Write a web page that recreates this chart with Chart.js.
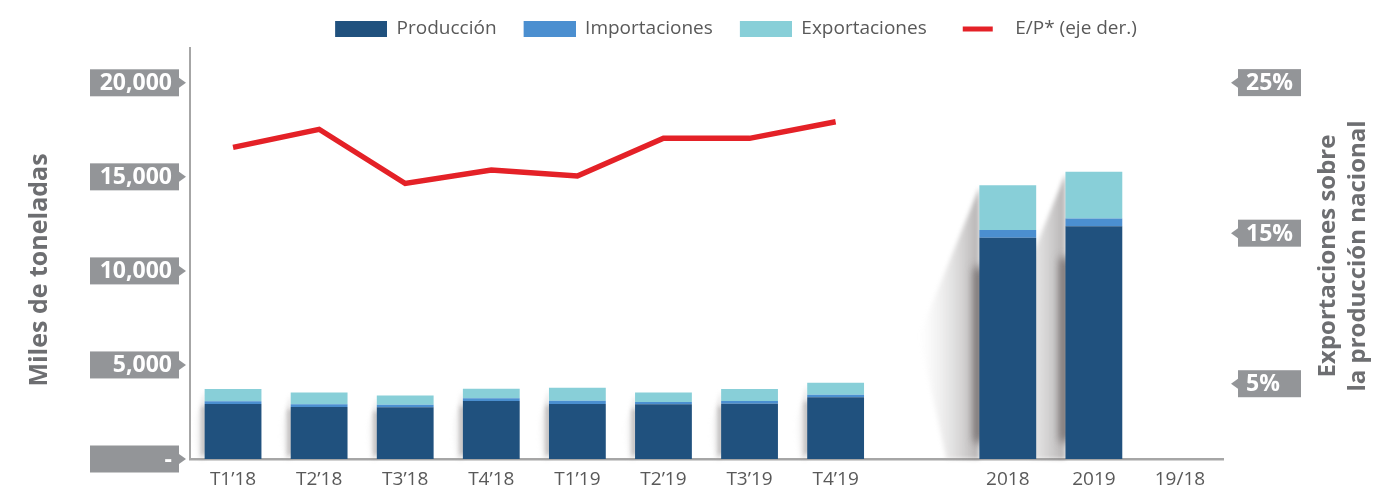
<!DOCTYPE html>
<html lang="es">
<head>
<meta charset="utf-8">
<title>Producción, importaciones y exportaciones</title>
<script src="https://cdn.jsdelivr.net/npm/chart.js@4.4.1/dist/chart.umd.min.js"></script>
<style>
  html, body { margin: 0; padding: 0; background: #fff; }
  #grafico-wrap { width: 1374px; height: 490px; }
</style>
</head>
<body>
<div id="grafico-wrap"><canvas id="grafico"></canvas></div>
<script>
// Categorías del eje X (hay un hueco vacío entre trimestres y años)
const categorias = ['T1’18', 'T2’18', 'T3’18', 'T4’18', 'T1’19', 'T2’19', 'T3’19', 'T4’19', '', '2018', '2019', '19/18'];

// Miles de toneladas
const produccion    = [2930, 2770, 2750, 3090, 2930, 2910, 2940, 3280, null, 11760, 12380, null];
const importaciones = [140, 140, 140, 140, 170, 120, 140, 130, null, 410, 410, null];
const exportaciones = [650, 620, 480, 510, 690, 500, 640, 650, null, 2380, 2480, null];

// E/P en %, eje derecho
const ratioEP = [20.7, 21.9, 18.3, 19.2, 18.8, 21.3, 21.3, 22.4, null, null, null, null];

// Marcas de los ejes
const ticksIzq = [0, 5000, 10000, 15000, 20000];
const ticksDer = [5, 15, 25];

const AZUL_OSCURO = '#20517e';
const AZUL_MEDIO = '#4b8fd0';
const AZUL_CLARO = '#88cfd8';
const ROJO = '#e42127';
const GRIS_CAJA = '#939598';
const GRIS_TEXTO = '#595959';
const GRIS_TITULO = '#6d6e71';
const FUENTE = '"Open Sans", "DejaVu Sans", sans-serif';

// iconos de la leyenda: 13 px de aire a la izquierda para separar las entradas
const ANCHO_ICONO = 65;
function iconoCaja(color) {
    const c = document.createElement('canvas');
    c.width = ANCHO_ICONO; c.height = 16;
    const g = c.getContext('2d');
    g.fillStyle = color;
    g.fillRect(13, 0, 52, 16);
    return c;
}
function iconoLinea(color) {
    const c = document.createElement('canvas');
    c.width = ANCHO_ICONO; c.height = 16;
    const g = c.getContext('2d');
    g.fillStyle = color;
    g.fillRect(22, 6, 30, 5);
    return c;
}
const iconos = [iconoCaja(AZUL_OSCURO), iconoCaja(AZUL_MEDIO), iconoCaja(AZUL_CLARO), iconoLinea(ROJO)];

// sombra difusa a la izquierda de cada barra apilada
const sombraBarras = {
    id: 'sombraBarras',
    beforeDatasetsDraw(chart) {
        const { ctx } = chart;
        const metaTop = chart.getDatasetMeta(2);
        const base = chart.scales.y.getPixelForValue(0);
        metaTop.data.forEach((bar, i) => {
            if (exportaciones[i] == null) return;
            const { x, y, width } = bar.getProps(['x', 'y', 'width'], true);
            const left = x - width / 2;
            const h = base - y;
            const grande = h > 150;
            const d = h * (grande ? 0.22 : 0.16);

            ctx.save();
            ctx.filter = 'blur(2px)';
            let g = ctx.createLinearGradient(left, 0, left - d, 0);
            g.addColorStop(0, grande ? 'rgba(120,115,115,0.55)' : 'rgba(150,145,145,0.35)');
            g.addColorStop(1, 'rgba(210,210,210,0)');
            ctx.beginPath();
            ctx.moveTo(left, y + 2);
            ctx.lineTo(left - d, y + h * 0.55);
            ctx.lineTo(left - d * 0.55, base);
            ctx.lineTo(left, base);
            ctx.closePath();
            ctx.fillStyle = g;
            ctx.fill();

            // franja oscura pegada al borde izquierdo
            ctx.filter = grande ? 'blur(5px)' : 'blur(2px)';
            const y0 = y + h * (grande ? 0.3 : 0.25);
            const y1 = base - h * 0.06;
            ctx.fillStyle = grande ? 'rgba(70,60,60,0.7)' : 'rgba(100,95,95,0.35)';
            ctx.fillRect(left - (grande ? 5 : 3), y0, grande ? 10 : 5, y1 - y0);
            ctx.restore();
        });
    }
};

// cajas grises de las marcas y títulos de ejes
const etiquetasEjes = {
    id: 'etiquetasEjes',
    afterDraw(chart) {
        const { ctx, scales, chartArea } = chart;
        ctx.save();
        ctx.font = 'bold 23px ' + FUENTE;
        ctx.textBaseline = 'middle';

        const cajaDer = chartArea.left - 11;
        scales.y.ticks.forEach(t => {
            const yy = scales.y.getPixelForValue(t.value);
            ctx.fillStyle = GRIS_CAJA;
            ctx.fillRect(cajaDer - 89, yy - 13.5, 89, 27);
            ctx.beginPath();
            ctx.moveTo(cajaDer, yy - 5);
            ctx.lineTo(cajaDer + 7, yy);
            ctx.lineTo(cajaDer, yy + 5);
            ctx.fill();
            ctx.fillStyle = '#fff';
            ctx.textAlign = 'right';
            ctx.fillText(t.value === 0 ? '-' : t.value.toLocaleString('en-US'), cajaDer - 7, yy + 1);
        });

        const cajaIzq = chartArea.right + 15;
        scales.y1.ticks.forEach(t => {
            const yy = scales.y1.getPixelForValue(t.value);
            ctx.fillStyle = GRIS_CAJA;
            ctx.fillRect(cajaIzq, yy - 13.5, 63, 27);
            ctx.beginPath();
            ctx.moveTo(cajaIzq, yy - 5);
            ctx.lineTo(cajaIzq - 7, yy);
            ctx.lineTo(cajaIzq, yy + 5);
            ctx.fill();
            ctx.fillStyle = '#fff';
            ctx.textAlign = 'left';
            ctx.fillText(t.value + '%', cajaIzq + 8, yy + 1);
        });

        ctx.fillStyle = GRIS_TITULO;
        ctx.font = 'bold 25px ' + FUENTE;
        ctx.textAlign = 'center';
        ctx.save();
        ctx.translate(40, 270);
        ctx.rotate(-Math.PI / 2);
        ctx.fillText('Miles de toneladas', 0, 0);
        ctx.restore();

        ctx.font = 'bold 24px ' + FUENTE;
        ctx.save();
        ctx.translate(1328, 256);
        ctx.rotate(-Math.PI / 2);
        ctx.fillText('Exportaciones sobre', 0, 0);
        ctx.fillText('la producción nacional', 0, 30);
        ctx.restore();
        ctx.restore();
    }
};

function crearGrafico() {
    const ctx = document.getElementById('grafico').getContext('2d');

    const barra = (label, data, color) => ({
        type: 'bar',
        label,
        data,
        backgroundColor: color,
        borderWidth: 0,
        yAxisID: 'y',
        stack: 'total',
        barPercentage: 0.66,
        categoryPercentage: 1
    });

    new Chart(ctx, {
        data: {
            labels: categorias,
            datasets: [
                barra('Producción', produccion, AZUL_OSCURO),
                barra('Importaciones', importaciones, AZUL_MEDIO),
                barra('Exportaciones', exportaciones, AZUL_CLARO),
                {
                    type: 'line',
                    label: 'E/P* (eje der.)',
                    data: ratioEP,
                    borderColor: ROJO,
                    borderWidth: 5.5,
                    borderJoinStyle: 'miter',
                    pointRadius: 0,
                    tension: 0,
                    fill: false,
                    yAxisID: 'y1'
                }
            ]
        },
        options: {
            responsive: true,
            maintainAspectRatio: false,
            animation: false,
            layout: { padding: { top: 5, left: 85, right: 0, bottom: 0 } },
            plugins: {
                tooltip: { enabled: false },
                legend: {
                    position: 'top',
                    labels: {
                        usePointStyle: true,
                        pointStyleWidth: ANCHO_ICONO,
                        boxHeight: 16,
                        padding: 14,
                        color: GRIS_TEXTO,
                        font: { family: FUENTE, size: 19 },
                        generateLabels(chart) {
                            const items = Chart.defaults.plugins.legend.labels.generateLabels(chart);
                            items.forEach(it => { it.pointStyle = iconos[it.datasetIndex]; });
                            return items;
                        }
                    }
                }
            },
            scales: {
                x: {
                    stacked: true,
                    grid: { display: false, drawTicks: false },
                    border: { display: true, color: '#a6a6a6', width: 2.5 },
                    ticks: { color: GRIS_TEXTO, font: { family: FUENTE, size: 19 }, padding: 9, maxRotation: 0, autoSkip: false },
                    afterFit(scale) { scale.height = 31; }
                },
                y: {
                    stacked: true,
                    position: 'left',
                    min: 0,
                    max: 21850,
                    grid: { display: false },
                    border: { display: true, color: '#a6a6a6', width: 2 },
                    ticks: { display: false },
                    afterBuildTicks(scale) { scale.ticks = ticksIzq.map(v => ({ value: v })); },
                    afterFit(scale) { scale.width = 105; }
                },
                y1: {
                    position: 'right',
                    min: 0,
                    max: 27.3,
                    grid: { display: false },
                    border: { display: false },
                    ticks: { display: false },
                    afterBuildTicks(scale) { scale.ticks = ticksDer.map(v => ({ value: v })); },
                    afterFit(scale) { scale.width = 151; }
                }
            }
        },
        plugins: [sombraBarras, etiquetasEjes]
    });
}

document.addEventListener('DOMContentLoaded', crearGrafico);
</script>
</body>
</html>
